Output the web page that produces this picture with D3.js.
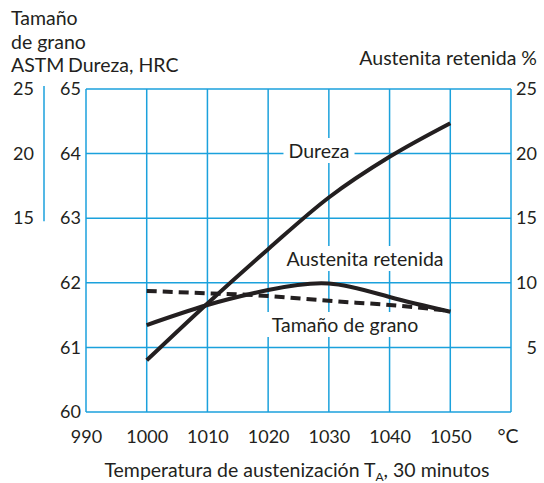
<!DOCTYPE html>
<html>
<head>
<meta charset="utf-8">
<script src="https://cdn.jsdelivr.net/npm/d3@7"></script>
<style>
  body { margin: 0; background: #fff; }
  text { font-family: Lato, "Open Sans", sans-serif; fill: #231f20; }
</style>
</head>
<body>
<div id="chart"></div>
<script>
// values
var temps = [1000, 1010, 1020, 1030, 1040, 1050];
var dureza = [60.80, 61.68, 62.52, 63.32, 63.95, 64.47];         // HRC
var austenita = [6.73, 8.28, 9.44, 9.95, 8.9, 7.76];             // %
var grano = [9.37, 9.19, 8.98, 8.61, 8.28, 7.82];                // ASTM

var xTicks = [990, 1000, 1010, 1020, 1030, 1040, 1050];
var hrcTicks = [60, 61, 62, 63, 64, 65];
var pctTicks = [5, 10, 15, 20, 25];
var granoTicks = [15, 20, 25];

var width = 544, height = 483;
var blue = "#1ba1dc", ink = "#231f20";
var fs = 19.5;   // words
var fsNum = 18;  // tick numbers

var svg = d3.select("#chart").append("svg")
  .attr("width", width)
  .attr("height", height);

// scales
var x = d3.scaleLinear().domain([990, 1060]).range([86, 511]);
var yH = d3.scaleLinear().domain([60, 65]).range([412, 89]);
var yP = d3.scaleLinear().domain([0, 25]).range([412, 89]);

/********** grid **********/
var grid = svg.append("g");
grid.selectAll("line.v")
  .data(d3.range(990, 1061, 10))
  .enter().append("line")
  .attr("x1", d => x(d)).attr("x2", d => x(d))
  .attr("y1", yH(60)).attr("y2", yH(65))
  .attr("stroke", blue).attr("stroke-width", 1.5);
grid.selectAll("line.h")
  .data(hrcTicks)
  .enter().append("line")
  .attr("x1", x(990)).attr("x2", x(1060))
  .attr("y1", d => yH(d)).attr("y2", d => yH(d))
  .attr("stroke", blue).attr("stroke-width", 1.5);

// grain size axis line (left)
svg.append("line")
  .attr("x1", 44).attr("x2", 44)
  .attr("y1", yP(25) - 3).attr("y2", yP(15) + 3)
  .attr("stroke", blue).attr("stroke-width", 1.5);

/********** axes (labels only) **********/
function styleAxis(g) {
  g.select(".domain").remove();
  g.selectAll("text")
    .attr("font-size", fsNum)
    .attr("fill", ink)
    .style("font-family", "Lato, sans-serif");
}

svg.append("g")
  .attr("transform", "translate(" + x(990) + ",0)")
  .call(d3.axisLeft(yH).tickValues(hrcTicks).tickSize(0).tickPadding(5).tickFormat(d3.format("d")))
  .call(styleAxis);

svg.append("g")
  .attr("transform", "translate(39,0)")
  .call(d3.axisLeft(yP).tickValues(granoTicks).tickSize(0).tickPadding(5).tickFormat(d3.format("d")))
  .call(styleAxis);

svg.append("g")
  .attr("transform", "translate(" + (x(1060) + 26) + ",0)")
  .call(d3.axisLeft(yP).tickValues(pctTicks).tickSize(0).tickPadding(0).tickFormat(d3.format("d")))
  .call(styleAxis);

svg.append("g")
  .attr("transform", "translate(0," + yH(60) + ")")
  .call(d3.axisBottom(x).tickValues(xTicks).tickSize(0).tickPadding(18).tickFormat(d3.format("d")))
  .call(styleAxis);

svg.append("text")
  .attr("x", x(1060) - 3).attr("y", 443)
  .attr("text-anchor", "middle")
  .attr("font-size", fs)
  .text("°C");

/********** titles **********/
var lt = svg.append("text").attr("font-size", fs);
lt.append("tspan").attr("x", 11).attr("y", 25).text("Tamaño");
lt.append("tspan").attr("x", 11).attr("y", 49).text("de grano");
lt.append("tspan").attr("x", 11).attr("y", 72).text("ASTM");
svg.append("text").attr("x", 68).attr("y", 72).attr("font-size", fs).text("Dureza, HRC");

svg.append("text")
  .attr("x", 537).attr("y", 65)
  .attr("text-anchor", "end")
  .attr("font-size", fs)
  .text("Austenita retenida %");

var xt = svg.append("text")
  .attr("x", 297).attr("y", 477)
  .attr("text-anchor", "middle")
  .attr("font-size", fs);
xt.append("tspan").text("Temperatura de austenización T");
xt.append("tspan").attr("font-size", 12).attr("dy", 4).text("A");
xt.append("tspan").attr("dy", -4).text(", 30 minutos");

/********** curve labels with white boxes **********/
var labels = svg.append("g");
function boxLabel(txt, cx, by) {
  var g = labels.append("g");
  var r = g.append("rect").attr("fill", "#fff");
  var t = g.append("text")
    .attr("x", cx).attr("y", by)
    .attr("text-anchor", "middle")
    .attr("font-size", fs)
    .text(txt);
  var b = t.node().getBBox();
  r.attr("x", b.x - 5).attr("y", b.y - 1)
    .attr("width", b.width + 10).attr("height", b.height + 2);
}

/********** curves **********/
var lineH = d3.line()
  .x((d, i) => x(temps[i]))
  .y(d => yH(d))
  .curve(d3.curveMonotoneX);
var lineP = d3.line()
  .x((d, i) => x(temps[i]))
  .y(d => yP(d))
  .curve(d3.curveNatural);

boxLabel("Dureza", 319, 158);
boxLabel("Austenita retenida", 365, 266);
boxLabel("Tamaño de grano", 345, 332);

svg.append("path")
  .attr("d", lineP(grano))
  .attr("fill", "none")
  .attr("stroke", ink)
  .attr("stroke-width", 4)
  .attr("stroke-dasharray", "10,6");

svg.append("path")
  .attr("d", lineP(austenita))
  .attr("fill", "none")
  .attr("stroke", ink)
  .attr("stroke-width", 4);

svg.append("path")
  .attr("d", lineH(dureza))
  .attr("fill", "none")
  .attr("stroke", ink)
  .attr("stroke-width", 4);
</script>
</body>
</html>
